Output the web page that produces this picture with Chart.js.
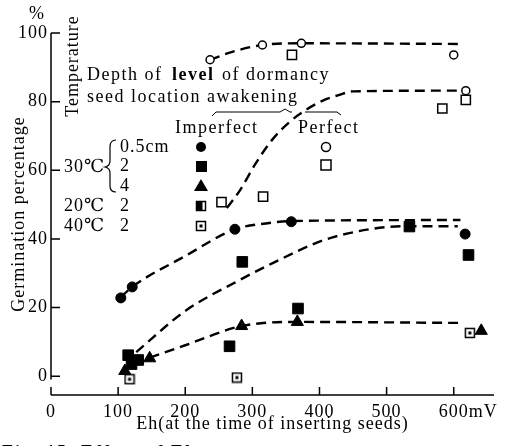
<!DOCTYPE html>
<html>
<head>
<meta charset="utf-8">
<script src="https://cdn.jsdelivr.net/npm/chart.js@4.4.1/dist/chart.umd.min.js"></script>
<style>
  html, body { margin: 0; padding: 0; background: #fff; }
  canvas { display: block; }
</style>
</head>
<body>
<canvas id="c" width="505" height="446"></canvas>
<script>
// axis ticks
var xTicks = [0, 100, 200, 300, 400, 500, 600];
var yTicks = [0, 20, 40, 60, 80, 100];

// 30C, 0.5cm, imperfect awakening (filled circles)
var d05X = [104, 121, 274, 358, 617];
var d05Y = [22.8, 26, 42.8, 45, 41.4];
// 30C, 0.5cm, perfect (open circles)
var d05pX = [237, 315, 373, 600, 618];
var d05pY = [92.2, 96.5, 97, 93.6, 83.2];
// 30C, 2cm, imperfect (filled squares)
var d2X = [115, 120, 130, 266, 285, 368, 534, 622];
var d2Y = [6.1, 3.5, 4.7, 8.7, 33.3, 19.7, 43.6, 35.3];
// 30C, 2cm, perfect (open squares)
var d2pX = [359, 583, 618];
var d2pY = [93.6, 78, 80.5];
// 20C, 2cm (open squares in plot)
var t20X = [254, 316];
var t20Y = [50.7, 52.3];
// 30C, 4cm (filled triangles)
var d4X = [110, 147, 284, 367, 641];
var d4Y = [1.5, 5.2, 14.6, 15.8, 13.2];
// 40C, 2cm (dotted squares)
var t40X = [117, 277, 624];
var t40Y = [-0.9, -0.4, 12.6];

// dashed fitted curves
var fitAX = [237, 270, 315, 373, 610];
var fitAY = [92.2, 94.5, 96.5, 97, 96.8];
var fitBX = [262, 281, 305, 330, 355, 380, 405, 430, 450, 610];
var fitBY = [49, 54, 62, 69, 74, 77.6, 80.3, 82, 83, 83.2];
var fitCX = [104, 121, 200, 274, 320, 358, 610];
var fitCY = [23, 26, 35, 42.8, 44.5, 45.2, 45.5];
var fitDX = [127, 200, 281, 331, 406, 481, 530, 606];
var fitDY = [7, 19, 28, 33, 39.6, 43, 43.7, 43.7];
var fitEX = [147, 200, 284, 367, 613];
var fitEY = [5.4, 9, 14.6, 15.8, 15.5];

var SERIF = '"Liberation Serif", "DejaVu Serif", serif';

function pts(xs, ys) {
  return xs.map(function (x, i) { return { x: x, y: ys[i] }; });
}

function makeMarker(kind) {
  var c = document.createElement('canvas');
  c.width = 12; c.height = 12;
  var g = c.getContext('2d');
  g.fillStyle = '#fff';
  g.fillRect(1, 1, 10, 10);
  g.strokeStyle = '#000';
  g.lineWidth = 1.5;
  g.strokeRect(1.5, 1.5, 9, 9);
  g.fillStyle = '#000';
  if (kind === 'dot') {
    g.fillRect(4.5, 4.5, 3, 3);
  } else if (kind === 'half') {
    g.fillRect(1.5, 1.5, 6, 9);
  }
  return c;
}
var dotSquare = makeMarker('dot');
var halfSquare = makeMarker('half');

function fit(xs, ys) {
  return {
    type: 'line', data: pts(xs, ys), showLine: true, pointRadius: 0,
    borderColor: '#000', borderWidth: 2.4, borderDash: [10, 6],
    cubicInterpolationMode: 'monotone', fill: false, order: 2
  };
}
function marks(xs, ys, style, radius, filled, bw) {
  return {
    type: 'scatter', data: pts(xs, ys), pointStyle: style, pointRadius: radius,
    pointBackgroundColor: filled ? '#000' : '#fff', pointBorderColor: '#000',
    pointBorderWidth: bw || 1, order: 1
  };
}

var decor = {
  id: 'decor',
  beforeDraw: function (chart) {
    chart.ctx.letterSpacing = '1px';
  },
  afterDraw: function (chart) {
    var ctx = chart.ctx, xs = chart.scales.x, ys = chart.scales.y;
    var x0 = xs.getPixelForValue(0), yb = chart.chartArea.bottom;
    ctx.save();
    ctx.strokeStyle = '#000';
    ctx.lineWidth = 1.5;
    ctx.beginPath();
    ctx.moveTo(x0, ys.getPixelForValue(100));
    ctx.lineTo(x0, ys.getPixelForValue(-1));
    yTicks.forEach(function (v) {
      var py = ys.getPixelForValue(v);
      ctx.moveTo(x0, py); ctx.lineTo(x0 + 9, py);
    });
    ctx.moveTo(x0, yb); ctx.lineTo(xs.right, yb);
    xTicks.forEach(function (v) {
      var px = xs.getPixelForValue(v);
      ctx.moveTo(px, yb); ctx.lineTo(px, yb - 8);
    });
    ctx.stroke();

    ctx.fillStyle = '#000';
    ctx.font = '18px ' + SERIF;
    ctx.letterSpacing = '1px';
    ctx.textBaseline = 'middle';
    // unit after the last tick label
    var p600 = xs.getPixelForValue(600);
    ctx.textAlign = 'left';
    ctx.fillText('mV', p600 + ctx.measureText('600').width / 2, xs.top + 6 + 11);
    // percent sign above y axis
    ctx.textAlign = 'center';
    ctx.fillText('%', 37, 14);

    // legend block
    ctx.textAlign = 'left';
    ctx.letterSpacing = '1.5px';
    ctx.fillText('Depth of', 87, 75);
    ctx.font = 'bold 18px ' + SERIF;
    ctx.fillText('level', 172, 75);
    ctx.font = '18px ' + SERIF;
    ctx.fillText('of dormancy', 222, 75);
    ctx.fillText('seed location awakening', 87, 97);
    ctx.fillText('Imperfect', 175, 128);
    ctx.fillText('Perfect', 298, 128);
    ctx.letterSpacing = '1px';
    ctx.fillText('0.5cm', 120, 147);
    ctx.fillText('2', 120, 166);
    ctx.fillText('4', 120, 186);
    ctx.fillText('30\u2103', 64, 167);
    ctx.fillText('20\u2103', 64, 206);
    ctx.fillText('2', 120, 206);
    ctx.fillText('40\u2103', 64, 226);
    ctx.fillText('2', 120, 226);

    // rotated "Temperature"
    ctx.save();
    ctx.translate(73, 66);
    ctx.rotate(-Math.PI / 2);
    ctx.textAlign = 'center';
    ctx.fillText('Temperature', 0, 0);
    ctx.restore();

    // brace for 30C rows
    ctx.lineWidth = 1.2;
    ctx.beginPath();
    ctx.moveTo(116, 140);
    ctx.quadraticCurveTo(110, 140, 110, 147);
    ctx.lineTo(110, 161);
    ctx.quadraticCurveTo(110, 166, 105, 167);
    ctx.quadraticCurveTo(110, 168, 110, 173);
    ctx.lineTo(110, 186);
    ctx.quadraticCurveTo(110, 192, 116, 192);
    ctx.stroke();

    // overline brackets above Imperfect / Perfect
    ctx.lineWidth = 1;
    ctx.beginPath();
    ctx.moveTo(212, 116); ctx.lineTo(216, 112); ctx.lineTo(280, 112);
    ctx.lineTo(285, 109); ctx.lineTo(290, 112); ctx.lineTo(292, 112);
    ctx.moveTo(305, 112); ctx.lineTo(337, 112); ctx.lineTo(341, 115);
    ctx.stroke();

    // legend keys
    ctx.lineWidth = 1.5;
    ctx.beginPath(); ctx.arc(201, 147, 5, 0, Math.PI * 2); ctx.fill();
    ctx.fillRect(196, 161, 11, 11);
    ctx.beginPath(); ctx.moveTo(201, 179); ctx.lineTo(208, 191); ctx.lineTo(194, 191); ctx.closePath(); ctx.fill();
    ctx.drawImage(halfSquare, 195, 200);
    ctx.drawImage(dotSquare, 195, 220);
    ctx.fillStyle = '#fff';
    ctx.beginPath(); ctx.arc(326, 147, 4.5, 0, Math.PI * 2); ctx.fill(); ctx.stroke();
    ctx.fillRect(321, 160, 10, 10); ctx.strokeRect(321, 160, 10, 10);

    // caption, cut at the bottom edge
    ctx.fillStyle = '#000';
    ctx.font = 'bold 18px ' + SERIF;
    ctx.letterSpacing = '2px';
    ctx.textBaseline = 'alphabetic';
    ctx.fillText('Fig. 15  Effect of Eh', 2, 458);
    ctx.restore();
  }
};

new Chart(document.getElementById('c'), {
  type: 'scatter',
  data: {
    datasets: [
      fit(fitAX, fitAY), fit(fitBX, fitBY), fit(fitCX, fitCY), fit(fitDX, fitDY), fit(fitEX, fitEY),
      marks(d05X, d05Y, 'circle', 5, true),
      marks(d05pX, d05pY, 'circle', 4, false, 1.5),
      marks(d2X, d2Y, 'rect', 7.5, true),
      marks(d2pX, d2pY, 'rect', 6.5, false, 1.5),
      marks(t20X, t20Y, 'rect', 6.5, false, 1.5),
      marks(d4X, d4Y, 'triangle', 7, true),
      marks(t40X, t40Y, dotSquare, 6, false)
    ]
  },
  options: {
    responsive: false,
    animation: false,
    devicePixelRatio: 1,
    layout: { padding: { top: 33, right: 11, left: 0, bottom: 0 } },
    plugins: { legend: { display: false }, tooltip: { enabled: false } },
    scales: {
      x: {
        type: 'linear', min: 0, max: 660,
        grid: { display: false, drawTicks: false },
        border: { display: false },
        afterBuildTicks: function (s) { s.ticks = xTicks.map(function (v) { return { value: v }; }); },
        afterFit: function (s) { s.height = 51; s.paddingLeft = 0; s.paddingRight = 0; },
        ticks: { color: '#000', padding: 6, maxRotation: 0, font: { family: SERIF, size: 18 } },
        title: {
          display: true, text: 'Eh(at the time of inserting seeds)', color: '#000',
          font: { family: SERIF, size: 18 }, padding: { top: 0, bottom: 11 }
        }
      },
      y: {
        type: 'linear', min: -5.5, max: 100,
        grid: { display: false, drawTicks: false },
        border: { display: false },
        afterBuildTicks: function (s) { s.ticks = yTicks.map(function (v) { return { value: v }; }); },
        afterFit: function (s) { s.width = 51; s.paddingTop = 0; s.paddingBottom = 0; },
        ticks: { color: '#000', padding: 3, font: { family: SERIF, size: 18 } },
        title: {
          display: true, text: 'Germination percentage', color: '#000',
          font: { family: SERIF, size: 18 }, padding: { top: 8, bottom: 0 }
        }
      }
    }
  },
  plugins: [decor]
});
</script>
</body>
</html>
